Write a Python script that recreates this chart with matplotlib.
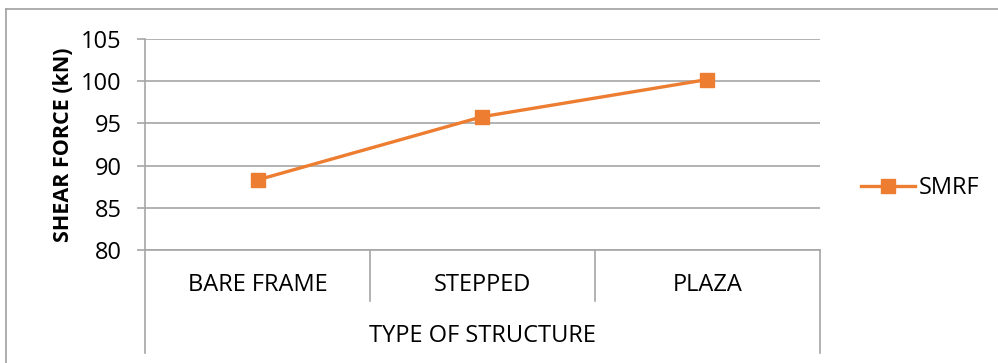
import matplotlib
matplotlib.use("Agg")
import matplotlib.pyplot as plt
from matplotlib.lines import Line2D
from matplotlib.transforms import blended_transform_factory

categories = ["BARE FRAME", "STEPPED", "PLAZA"]
smrf = [88.3, 95.8, 100.2]
y_ticks = [80, 85, 90, 95, 100, 105]
series_name = "SMRF"

plt.rcParams["font.family"] = ["Open Sans", "DejaVu Sans"]

W, H = 998, 363
fig = plt.figure(figsize=(W / 100, H / 100), dpi=100)

def fx(px):
    return px / W

def fy(py):
    return 1 - py / H

left, right, top, bottom = 145, 820, 39, 250
ax = fig.add_axes([fx(left), fy(bottom), fx(right - left), (bottom - top) / H])

orange = "#ED7D31"
grid_c = "#A6A6A6"
fs = 17

x = list(range(len(categories)))
line, = ax.plot(x, smrf, color=orange, lw=2.4, marker="s", ms=10.5,
                markeredgecolor=orange, label=series_name, zorder=3)

ax.set_xlim(-0.5, len(categories) - 0.5)
ax.set_ylim(y_ticks[0], y_ticks[-1])
ax.set_yticks(y_ticks)
ax.yaxis.grid(True, color=grid_c, lw=1.2)
ax.set_axisbelow(True)
ax.tick_params(axis="y", length=6, width=1.2, color=grid_c, pad=11,
               labelsize=fs, labelcolor="black")
ax.set_xticks([])
for s in ["top", "right", "bottom"]:
    ax.spines[s].set_visible(False)
ax.spines["left"].set_color(grid_c)
ax.spines["left"].set_linewidth(1.2)

ax.set_ylabel("SHEAR FORCE (kN)", fontsize=15.5, fontweight="bold", labelpad=5)

# Two-level category axis below the plot
plot_h = bottom - top
trans = blended_transform_factory(ax.transData, ax.transAxes)
short = -(301 - bottom) / plot_h
tall = -(353 - bottom) / plot_h
ax.plot([-0.5, len(categories) - 0.5], [0, 0], transform=trans, color=grid_c,
        lw=1.2, clip_on=False)
for i in range(len(categories) + 1):
    b = i - 0.5
    y_end = tall if i in (0, len(categories)) else short
    ax.plot([b, b], [0, y_end], transform=trans, color=grid_c, lw=1.2,
            clip_on=False)
for i, c in enumerate(categories):
    ax.text(i, -(285 - bottom) / plot_h, c, transform=trans, ha="center",
            va="center", fontsize=fs)
ax.text(0.5, -(336 - bottom) / plot_h, "TYPE OF STRUCTURE", transform=ax.transAxes,
        ha="center", va="center", fontsize=fs)

# Chart frame (top and left edges)
frame_c = "#A0A0A0"
fig.add_artist(Line2D([fx(6), 1], [fy(9), fy(9)], color=frame_c, lw=1.2))
fig.add_artist(Line2D([fx(6), fx(6)], [fy(9), 0], color=frame_c, lw=1.2))

fig.legend(handles=[line], loc="center left",
           bbox_to_anchor=(fx(861), fy(188)), frameon=False, fontsize=fs,
           handlelength=2.3, handletextpad=0.15, borderpad=0, borderaxespad=0)

fig.savefig("out.png", dpi=100)
